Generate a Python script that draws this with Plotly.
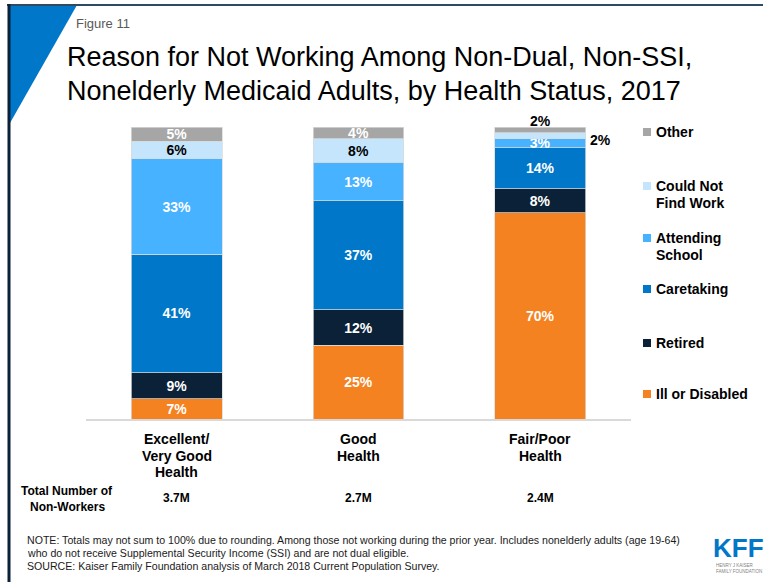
import plotly.graph_objects as go

# ---- data -------------------------------------------------------------
categories = ["Excellent/ Very Good Health", "Good Health", "Fair/Poor Health"]
category_lines = [["Excellent/", "Very Good", "Health"], ["Good", "Health"], ["Fair/Poor", "Health"]]
totals = ["3.7M", "2.7M", "2.4M"]

reasons = ["Ill or Disabled", "Retired", "Caretaking", "Attending School",
           "Could Not Find Work", "Other"]
ill_disabled = [7, 25, 70]
retired = [9, 12, 8]
caretaking = [41, 37, 14]
attending_school = [33, 13, 3]
could_not_find_work = [6, 8, 2]
other = [5, 4, 2]

series = [ill_disabled, retired, caretaking, attending_school, could_not_find_work, other]
colors = ["#F58220", "#0B2137", "#0077C8", "#47B2FF", "#C4E5FC", "#A6A6A6"]
text_colors = ["white", "white", "white", "white", "black", "white"]
legend_lines = [["Other"], ["Could Not", "Find Work"], ["Attending", "School"],
                ["Caretaking"], ["Retired"], ["Ill or Disabled"]]

W, H = 767, 582
FONT = "Arial, Liberation Sans, sans-serif"


def px(x):
    return x / W


def py(y):
    return 1 - y / H


fig = go.Figure()

# segments that are too thin get their value drawn beside the bar instead
outside = {(4, 2), (5, 2)}

for i, (name, vals) in enumerate(zip(reasons, series)):
    labels = ["" if (i, j) in outside else f"{v}%" for j, v in enumerate(vals)]
    fig.add_trace(go.Bar(
        x=categories, y=vals, name=name,
        marker=dict(color=colors[i], line=dict(color="#D9D9D9", width=0.75)),
        text=labels, texttemplate="%{text}", textposition="inside",
        insidetextanchor="middle", textangle=0,
        textfont=dict(family=FONT, size=14, color=text_colors[i], weight="bold"),
        hoverinfo="skip", showlegend=False,
    ))

fig.update_layout(
    width=W, height=H, autosize=False,
    margin=dict(l=0, r=0, t=0, b=0),
    paper_bgcolor="white", plot_bgcolor="white",
    barmode="stack", barnorm="percent", bargap=0.5,
    uniformtext=dict(minsize=14, mode="show"),
    xaxis=dict(type="category", range=[-0.5, 2.5], domain=[px(86), px(631)],
               showline=True, linecolor="#D9D9D9", linewidth=1.5,
               showticklabels=False, ticks="", showgrid=False, zeroline=False),
    yaxis=dict(range=[0, 100], domain=[py(419), py(127)], visible=False),
)

ann = []

# values of the thin segments in the third bar
tot3 = sum(s[2] for s in series)
cum_cnfw_mid = (sum(s[2] for s in series[:4]) + could_not_find_work[2] / 2) / tot3 * 100
ann.append(dict(x=categories[2], y=100, xref="x", yref="y", text=f"{other[2]}%",
                showarrow=False, yanchor="bottom", yshift=-4,
                font=dict(family=FONT, size=14, color="black", weight="bold")))
ann.append(dict(x=categories[2], y=cum_cnfw_mid, xref="x", yref="y",
                text=f"{could_not_find_work[2]}%", showarrow=False,
                xshift=60, yshift=-4,
                font=dict(family=FONT, size=14, color="black", weight="bold")))

# category labels under the bars
for cat, lines in zip(categories, category_lines):
    for k, line in enumerate(lines):
        ann.append(dict(x=cat, xref="x", y=py(439 + 16.5 * k), yref="paper",
                        text=line, showarrow=False, xanchor="center", yanchor="middle",
                        font=dict(family=FONT, size=14, color="black", weight="bold")))

# total row
for k, line in enumerate(["Total Number of", "Non-Workers"]):
    ann.append(dict(x=px(67), y=py(491 + 16 * k), xref="paper", yref="paper", text=line,
                    showarrow=False, xanchor="center", yanchor="middle",
                    font=dict(family=FONT, size=12, color="black", weight="bold")))
for cat, t in zip(categories, totals):
    ann.append(dict(x=cat, xref="x", y=py(498), yref="paper", text=t, showarrow=False,
                    xanchor="center", yanchor="middle",
                    font=dict(family=FONT, size=12, color="black", weight="bold")))

# legend
legend_colors = colors[::-1]
legend_y = [132, 186, 238, 289, 343, 394]
shapes = []
for lines, c, y0 in zip(legend_lines, legend_colors, legend_y):
    shapes.append(dict(type="rect", xref="paper", yref="paper",
                       x0=px(643), x1=px(651), y0=py(y0 + 4), y1=py(y0 - 4),
                       fillcolor=c, line=dict(width=0)))
    for k, line in enumerate(lines):
        ann.append(dict(x=px(653.5), y=py(y0 + 16.5 * k), xref="paper", yref="paper",
                        text=line, showarrow=False, xanchor="left", yanchor="middle",
                        font=dict(family=FONT, size=14, color="black", weight="bold")))

# heading
ann.append(dict(x=px(74), y=py(24), xref="paper", yref="paper", text="Figure 11",
                showarrow=False, xanchor="left", yanchor="middle",
                font=dict(family=FONT, size=13, color="#595959")))
for k, line in enumerate(["Reason for Not Working Among Non-Dual, Non-SSI,",
                          "Nonelderly Medicaid Adults, by Health Status, 2017"]):
    ann.append(dict(x=px(65), y=py(57 + 34 * k), xref="paper", yref="paper", text=line,
                    showarrow=False, xanchor="left", yanchor="middle",
                    font=dict(family=FONT, size=27, color="black")))

# notes
for k, line in enumerate([
        "NOTE: Totals may not sum to 100% due to rounding. Among those not working during the prior year. Includes nonelderly adults (age 19-64)",
        "who do not receive Supplemental Security Income (SSI) and are not dual eligible.",
        "SOURCE: Kaiser Family Foundation analysis of March 2018 Current Population Survey."]):
    ann.append(dict(x=px(25), y=py(540 + 13 * k), xref="paper", yref="paper", text=line,
                    showarrow=False, xanchor="left", yanchor="middle",
                    font=dict(family=FONT, size=10.6, color="#1a1a1a")))

# logo
ann.append(dict(x=px(738), y=py(548), xref="paper", yref="paper", text="KFF",
                showarrow=False, xanchor="center", yanchor="middle",
                font=dict(family=FONT, size=26, color="#0077C8", weight="bold")))
ann.append(dict(x=px(714), y=py(565), xref="paper", yref="paper", text="HENRY J KAISER",
                showarrow=False, xanchor="left", yanchor="middle",
                font=dict(family=FONT, size=4.5, color="#7f7f7f")))
ann.append(dict(x=px(714), y=py(571), xref="paper", yref="paper", text="FAMILY FOUNDATION",
                showarrow=False, xanchor="left", yanchor="middle",
                font=dict(family=FONT, size=4.5, color="#7f7f7f")))

# frame and corner accent
shapes.append(dict(type="path", xref="paper", yref="paper",
                   path=f"M {px(10)},{py(5)} L {px(77)},{py(5)} L {px(10)},{py(123)} Z",
                   fillcolor="#0077C8", line=dict(width=0)))
shapes.append(dict(type="line", xref="paper", yref="paper",
                   x0=px(7), x1=px(763), y0=py(5), y1=py(5),
                   line=dict(color="#2F4A63", width=2)))
shapes.append(dict(type="line", xref="paper", yref="paper",
                   x0=px(9), x1=px(9), y0=py(4), y1=py(582),
                   line=dict(color="#0B2137", width=3)))

fig.update_layout(annotations=ann, shapes=shapes)
fig.write_html("out.html")
